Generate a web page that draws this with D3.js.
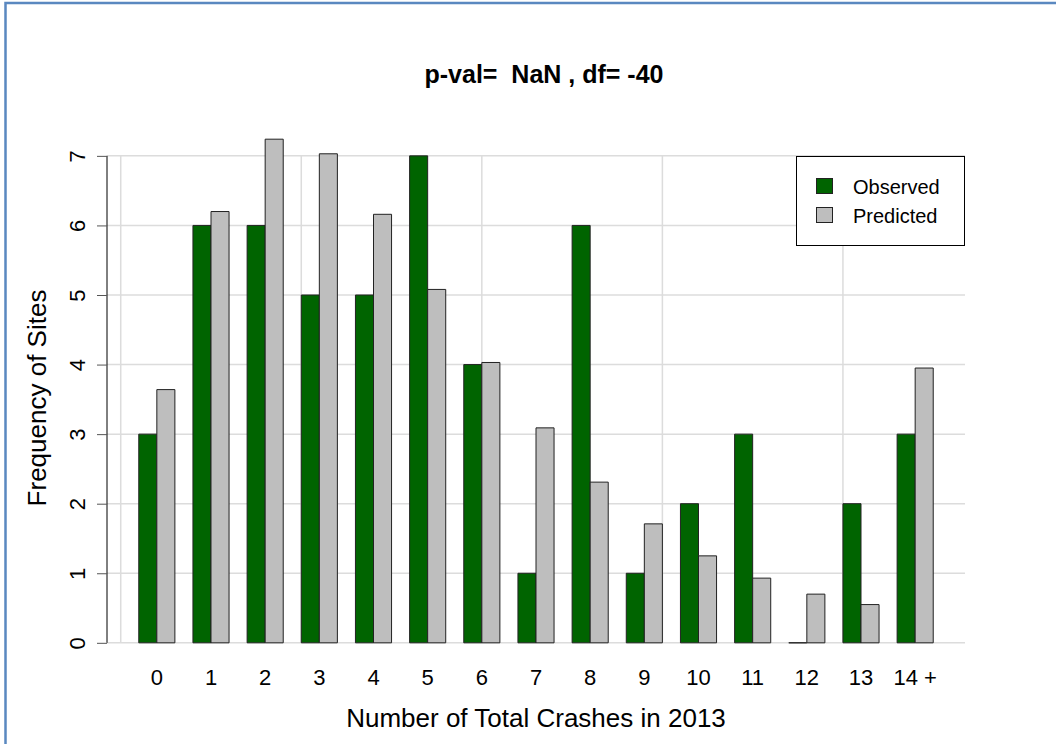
<!DOCTYPE html>
<html>
<head>
<meta charset="utf-8">
<script src="https://cdn.jsdelivr.net/npm/d3@7"></script>
<style>
  body { margin: 0; background: #fff; }
  svg text { font-family: "Liberation Sans", Arial, sans-serif; fill: #000; }
</style>
</head>
<body>
<div id="chart"></div>
<script>
// data
const categories = ["0", "1", "2", "3", "4", "5", "6", "7", "8", "9", "10", "11", "12", "13", "14 +"];
const observed = [3, 6, 6, 5, 5, 7, 4, 1, 6, 1, 2, 3, 0, 2, 3];
const predicted = [3.64, 6.20, 7.24, 7.03, 6.16, 5.08, 4.03, 3.09, 2.31, 1.71, 1.25, 0.93, 0.70, 0.55, 3.95];
const seriesNames = ["Observed", "Predicted"];
const yTicks = [0, 1, 2, 3, 4, 5, 6, 7];
const xGridUnits = [0, 10, 20, 30, 40];

const width = 1056, height = 744;
const plot = { left: 107, right: 965, top: 119, bottom: 663 };
const colors = { Observed: "#006400", Predicted: "#bebebe" };

const svg = d3.select("#chart")
  .append("svg")
  .attr("width", width)
  .attr("height", height);

// frame around the picture (only left/top visible)
svg.append("rect")
  .attr("x", 5.5)
  .attr("y", 3)
  .attr("width", 2000)
  .attr("height", 2000)
  .attr("fill", "none")
  .attr("stroke", "#5a88c0")
  .attr("stroke-width", 2.5);

// bar units, like R's barplot(beside=TRUE)
const xUnit = d3.scaleLinear().domain([-0.76, 46.76]).range([plot.left, plot.right]);
const y = d3.scaleLinear().domain([-0.29, 7.53]).range([plot.bottom, plot.top]);

const x0 = d3.scaleBand()
  .domain(categories)
  .range([xUnit(0), xUnit(46)])
  .paddingInner(1 / 3)
  .paddingOuter(1 / 3);
const x1 = d3.scaleBand()
  .domain(seriesNames)
  .range([0, x0.bandwidth()]);

// grid
const grid = svg.append("g").attr("stroke", "#dcdcdc").attr("stroke-width", 1.5);
grid.selectAll("line.h")
  .data(yTicks)
  .join("line")
  .attr("class", "h")
  .attr("x1", plot.left)
  .attr("x2", plot.right)
  .attr("y1", (d) => y(d))
  .attr("y2", (d) => y(d));
grid.selectAll("line.v")
  .data(xGridUnits)
  .join("line")
  .attr("class", "v")
  .attr("x1", (d) => xUnit(d))
  .attr("x2", (d) => xUnit(d))
  .attr("y1", y(0))
  .attr("y2", y(7));

// bars
const rows = categories.map((c, i) => ({
  cat: c,
  vals: [
    { key: "Observed", value: observed[i] },
    { key: "Predicted", value: predicted[i] }
  ]
}));

const groups = svg.append("g")
  .selectAll("g")
  .data(rows)
  .join("g")
  .attr("transform", (d) => `translate(${x0(d.cat)},0)`);

// paths so a zero bar still shows its border line
groups.selectAll("path")
  .data((d) => d.vals)
  .join("path")
  .attr("d", (d) => {
    const p = d3.path();
    p.rect(x1(d.key), y(d.value), x1.bandwidth(), y(0) - y(d.value));
    return p.toString();
  })
  .attr("fill", (d) => colors[d.key])
  .attr("stroke", "#222")
  .attr("stroke-width", 1);

// y axis
const yAxis = svg.append("g")
  .attr("transform", `translate(${plot.left},0)`)
  .call(d3.axisLeft(y).tickValues(yTicks).tickSize(10).tickSizeOuter(0).tickPadding(0));
yAxis.select(".domain")
  .attr("d", `M0,${y(0)}V${y(7)}`)
  .attr("stroke", "#000");
yAxis.selectAll(".tick line").attr("stroke", "#555");
yAxis.selectAll(".tick text")
  .attr("x", null)
  .attr("dy", null)
  .attr("transform", "translate(-22,0) rotate(-90)")
  .attr("text-anchor", "middle")
  .style("font-size", "22px")
  .style("font-family", "Liberation Sans, Arial, sans-serif");

// x labels under groups, no axis line
svg.append("g")
  .selectAll("text")
  .data(categories)
  .join("text")
  .attr("x", (d) => x0(d) + x0.bandwidth() / 2)
  .attr("y", 685)
  .attr("text-anchor", "middle")
  .style("font-size", "22px")
  .text((d) => d);

// titles
svg.append("text")
  .attr("x", 544)
  .attr("y", 83)
  .attr("text-anchor", "middle")
  .style("font-size", "25px")
  .style("font-weight", "bold")
  .attr("xml:space", "preserve")
  .text("p-val=  NaN , df= -40");

svg.append("text")
  .attr("x", (plot.left + plot.right) / 2)
  .attr("y", 727)
  .attr("text-anchor", "middle")
  .style("font-size", "26px")
  .text("Number of Total Crashes in 2013");

svg.append("text")
  .attr("transform", `translate(46,${(plot.top + plot.bottom) / 2 + 7}) rotate(-90)`)
  .attr("text-anchor", "middle")
  .style("font-size", "26px")
  .text("Frequency of Sites");

// legend
const legend = svg.append("g").attr("transform", "translate(796,156)");
legend.append("rect")
  .attr("x", 0.5)
  .attr("y", 0.5)
  .attr("width", 168)
  .attr("height", 89)
  .attr("fill", "#fff")
  .attr("stroke", "#000");
const items = legend.selectAll("g.item")
  .data(seriesNames)
  .join("g")
  .attr("class", "item")
  .attr("transform", (d, i) => `translate(0,${30 + i * 29})`);
items.append("rect")
  .attr("x", 20.5)
  .attr("y", -7.5)
  .attr("width", 16)
  .attr("height", 15)
  .attr("fill", (d) => colors[d])
  .attr("stroke", "#222");
items.append("text")
  .attr("x", 57)
  .attr("y", 7.5)
  .style("font-size", "20px")
  .text((d) => d);
</script>
</body>
</html>
